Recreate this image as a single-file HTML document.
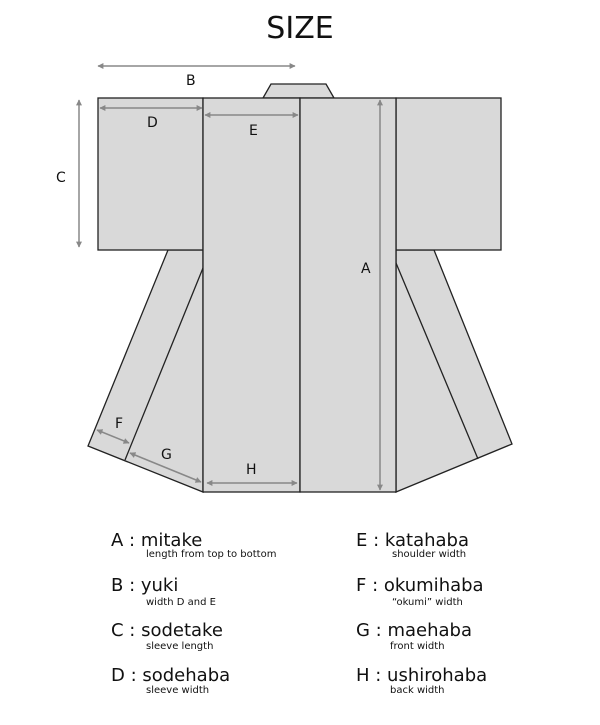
<!DOCTYPE html>
<html><head><style>
body{margin:0;background:#fff;width:600px;height:720px;overflow:hidden}
svg text{font-family:"DejaVu Sans","Liberation Sans",sans-serif;fill:#111}
</style></head><body>
<svg width="600" height="720" viewBox="0 0 600 720">
<defs>
<marker id="ah" viewBox="0 0 10 10" refX="9" refY="5" markerWidth="8" markerHeight="6" orient="auto-start-reverse" markerUnits="userSpaceOnUse"><path d="M0,0 L10,5 L0,10z" fill="#888"/></marker>
</defs>
<text x="300" y="38" font-size="30" text-anchor="middle">SIZE</text>
<g fill="#d9d9d9" stroke="#222" stroke-width="1.3">
<polygon points="168,250 88,446 203,492 203,250"/>
<polygon points="434,250 512,444 396,492 396,250"/>
<line x1="203" y1="268" x2="125" y2="460"/>
<line x1="396" y1="263" x2="478" y2="459"/>
<polygon points="271,84 326,84 334,98 263,98"/>
<rect x="98" y="98" width="105" height="152"/>
<rect x="396" y="98" width="105" height="152"/>
<rect x="203" y="98" width="97" height="394"/>
<rect x="300" y="98" width="96" height="394"/>
</g>
<g stroke="#888" stroke-width="1.5" marker-start="url(#ah)" marker-end="url(#ah)">
<line x1="98" y1="66" x2="295" y2="66"/>
<line x1="100" y1="108" x2="202" y2="108"/>
<line x1="205" y1="115" x2="298" y2="115"/>
<line x1="380" y1="100" x2="380" y2="490"/>
<line x1="79" y1="100" x2="79" y2="247"/>
<line x1="97" y1="430" x2="129" y2="443"/>
<line x1="130" y1="453" x2="201" y2="482"/>
<line x1="207" y1="483" x2="297" y2="483"/>
</g>
<g font-size="14">
<text x="186" y="85">B</text>
<text x="147" y="127">D</text>
<text x="249" y="135">E</text>
<text x="56" y="182">C</text>
<text x="361" y="273">A</text>
<text x="115" y="428">F</text>
<text x="161" y="459">G</text>
<text x="246" y="474">H</text>
</g>
<g font-size="18">
<text x="111" y="546">A : mitake</text>
<text x="111" y="591">B : yuki</text>
<text x="111" y="636">C : sodetake</text>
<text x="111" y="681">D : sodehaba</text>
<text x="356" y="546">E : katahaba</text>
<text x="356" y="591">F : okumihaba</text>
<text x="356" y="636">G : maehaba</text>
<text x="356" y="681">H : ushirohaba</text>
</g>
<g font-size="10">
<text x="146" y="557">length from top to bottom</text>
<text x="146" y="605">width D and E</text>
<text x="146" y="649">sleeve length</text>
<text x="146" y="693">sleeve width</text>
<text x="392" y="557">shoulder width</text>
<text x="392" y="605">“okumi” width</text>
<text x="390" y="649">front width</text>
<text x="390" y="693">back width</text>
</g>
</svg>
</body></html>
